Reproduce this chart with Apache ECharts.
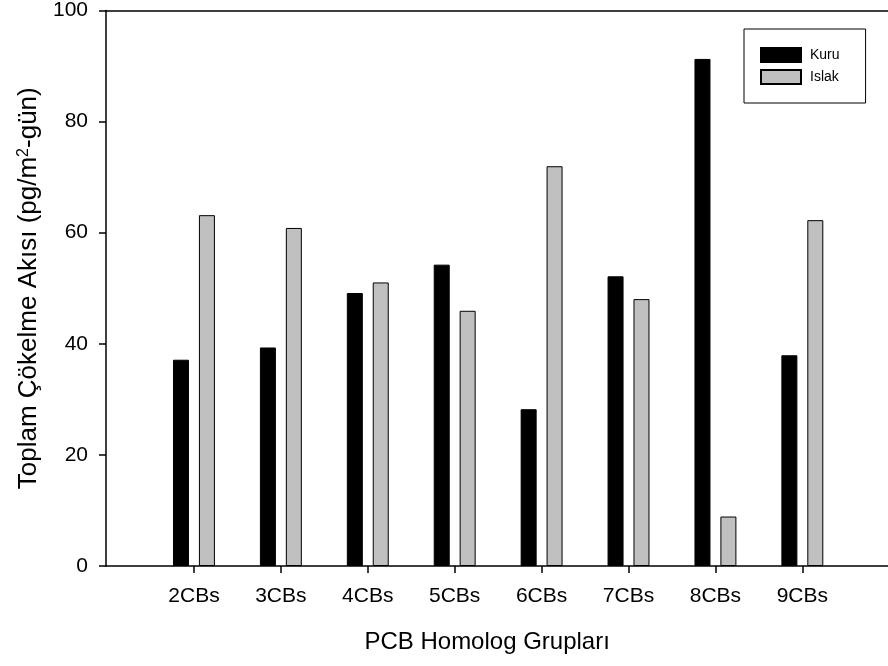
<!DOCTYPE html>
<html>
<head>
<meta charset="utf-8">
<script src="https://cdn.jsdelivr.net/npm/echarts@6/dist/echarts.min.js"></script>
<style>
  html, body { margin: 0; padding: 0; background: #fff; }
  #chart { width: 888px; height: 666px; }
</style>
</head>
<body>
<div id="chart"></div>
<script>
// PCB homolog groups and deposition fluxes (pg/m2-day)
const categories = ['2CBs', '3CBs', '4CBs', '5CBs', '6CBs', '7CBs', '8CBs', '9CBs'];
const kuru = [37.1, 39.3, 49.1, 54.2, 28.2, 52.1, 91.2, 37.9];
const islak = [63.1, 60.8, 51.0, 45.9, 71.9, 48.0, 8.9, 62.2];
const yTicks = [0, 20, 40, 60, 80, 100];

const FONT = 'Arial, "Liberation Sans", sans-serif';
const BLACK = '#000000';
const GREY = '#c0c0c0';

const chart = echarts.init(document.getElementById('chart'), null, { renderer: 'canvas' });

// plain frame lines along the top and bottom of the plot
const frameAxis = (pos) => ({
  gridIndex: 0, type: 'value', min: 0, max: 1, position: pos,
  axisLine: { show: true, onZero: false, lineStyle: { color: BLACK, width: 1.5 } },
  axisTick: { show: false }, axisLabel: { show: false }, splitLine: { show: false }
});

chart.setOption({
  animation: false,
  backgroundColor: '#ffffff',
  textStyle: { fontFamily: FONT },
  grid: [
    { left: 106, top: 10, width: 800, height: 556 },
    { left: 150.5, top: 10, width: 695.3, height: 556 }
  ],
  legend: {
    orient: 'vertical',
    left: 744, top: 29,
    data: ['Kuru', 'Islak'],
    icon: 'rect',
    itemWidth: 40, itemHeight: 14, itemGap: 6,
    borderColor: BLACK, borderWidth: 1,
    padding: [18, 26, 18, 16],
    textStyle: { fontFamily: FONT, fontSize: 14, color: BLACK, padding: [0, 0, 0, 4] }
  },
  xAxis: [
    frameAxis('bottom'),
    frameAxis('top'),
    {
      gridIndex: 1, type: 'category', data: categories,
      axisLine: { show: false },
      axisTick: { show: true, alignWithLabel: true, length: 7, lineStyle: { color: BLACK, width: 1.5 } },
      axisLabel: { color: BLACK, fontSize: 21, fontFamily: FONT, margin: 20 },
      splitLine: { show: false },
      name: 'PCB Homolog Grupları',
      nameLocation: 'middle', nameGap: 64,
      nameTextStyle: { color: BLACK, fontSize: 24, fontFamily: FONT, padding: [0, 22, 0, 0] }
    }
  ],
  yAxis: [
    {
      gridIndex: 0, type: 'value',
      min: yTicks[0], max: yTicks[yTicks.length - 1], interval: yTicks[1] - yTicks[0],
      axisLine: { show: true, onZero: false, lineStyle: { color: BLACK, width: 1.5 } },
      axisTick: { show: true, length: 7, lineStyle: { color: BLACK, width: 1.5 } },
      axisLabel: { color: BLACK, fontSize: 21, fontFamily: FONT, margin: 18 },
      splitLine: { show: false },
      name: 'Toplam Çökelme Akısı (pg/m{sup|2}-gün)',
      nameLocation: 'middle', nameGap: 62,
      nameTextStyle: {
        color: BLACK, fontSize: 26, fontFamily: FONT,
        rich: {
          sup: { fontSize: 16, fontFamily: FONT, color: BLACK, padding: [0, 0, 11, 0] }
        }
      }
    },
    {
      gridIndex: 1, type: 'value',
      min: yTicks[0], max: yTicks[yTicks.length - 1],
      show: false
    }
  ],
  series: [
    {
      name: 'Kuru', type: 'bar', xAxisIndex: 2, yAxisIndex: 1,
      data: kuru, barWidth: 16, barGap: '62%',
      itemStyle: { color: BLACK, borderColor: BLACK, borderWidth: 1 }
    },
    {
      name: 'Islak', type: 'bar', xAxisIndex: 2, yAxisIndex: 1,
      data: islak, barWidth: 16, barGap: '62%',
      itemStyle: { color: GREY, borderColor: BLACK, borderWidth: 1 }
    }
  ]
});
</script>
</body>
</html>
